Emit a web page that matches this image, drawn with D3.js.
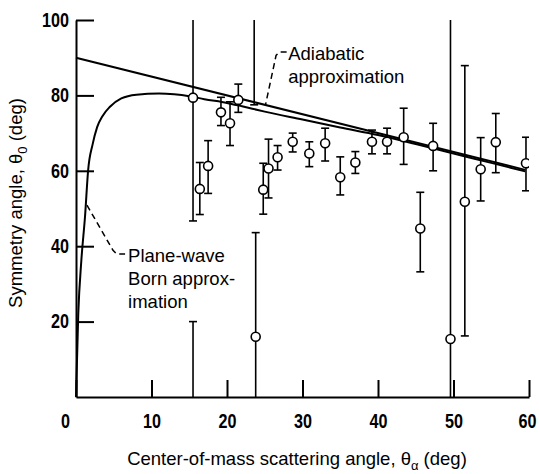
<!DOCTYPE html>
<html>
<head>
<meta charset="utf-8">
<script src="https://cdn.jsdelivr.net/npm/d3@7"></script>
<style>
  body { margin: 0; background: #fff; }
  svg { display: block; }
  text { font-family: "Liberation Sans", Arial, sans-serif; fill: #000; }
  .tick text { font-weight: bold; }
</style>
</head>
<body>
<div id="chart"></div>
<script>
"use strict"

// measured points: x angle, symmetry angle, lower and upper error
const pointX = [15.5, 15.5, 16.4, 17.5, 19.2, 20.4, 21.5, 23.6, 23.8, 24.8, 25.5, 26.7, 28.7, 30.9,
  33.0, 35.0, 37.0, 39.2, 41.2, 43.4, 45.6, 47.3, 49.6, 51.5, 53.6, 55.6, 59.6];
const pointY = [79.4, -30, 55.2, 61.3, 75.5, 72.6, 78.8, 130, 16.0, 55.0, 60.6, 63.6, 67.7, 64.6,
  67.3, 58.3, 62.2, 67.7, 67.7, 68.9, 44.7, 66.6, 15.4, 51.8, 60.4, 67.6, 62.0];
const errLow = [46.7, -80, 48.4, 54.0, 72.0, 66.7, 75.5, 77.5, -20, 48.5, 52.8, 60.2, 65.0, 61.1,
  62.6, 53.6, 59.3, 64.5, 64.5, 61.7, 33.2, 60.0, -30, 16.2, 52.0, 59.5, 54.7];
const errHigh = [115, 20.0, 62.2, 68.0, 79.5, 78.3, 83.0, 180, 43.6, 62.0, 68.4, 66.7, 70.0, 67.7,
  71.3, 63.7, 65.1, 70.8, 71.3, 76.6, 54.3, 72.6, 140, 87.9, 68.8, 75.2, 68.9];

// adiabatic approximation (straight line)
const adiabaticX = [0, 59.5];
const adiabaticY = [90, 60.25];

// plane-wave Born approximation
const bornX = [0, 0.3, 0.7, 1.2, 1.6, 2.2, 2.8, 3.5, 4.5, 6, 8, 11, 13, 15, 17, 20, 22, 25, 30, 35, 40, 45, 50, 55, 59.5];
const bornY = [0, 22, 36, 48, 60, 67, 71.6, 74.5, 77, 79.2, 80.2, 80.5, 80.3, 79.8, 79.0, 78.0, 77.1, 75.7, 73.6, 71.5, 69.5, 67.1, 64.6, 62.1, 59.85];

const xTicks = [0, 10, 20, 30, 40, 50, 60];
const yTicks = [20, 40, 60, 80, 100];

window.addEventListener("load", drawChart);

function drawChart() {
  let width = 540, height = 474;
  let margin = {top: 20, right: 11, bottom: 77, left: 76};

  let x = d3.scaleLinear().domain([0, 60]).range([margin.left, width - margin.right]);
  let y = d3.scaleLinear().domain([0, 100]).range([height - margin.bottom, margin.top]);

  let svg = d3.select("#chart")
    .append("svg")
      .attr("width", width)
      .attr("height", height);

  svg.append("clipPath")
      .attr("id", "plotClip")
    .append("rect")
      .attr("x", x(0))
      .attr("y", y(100))
      .attr("width", x(60) - x(0))
      .attr("height", y(0) - y(100));

  // digits in the reference are condensed: squeeze them to ~9px each
  function squeeze(sel) {
    sel.attr("font-size", 19.5)
      .attr("textLength", d => String(d).length * 9)
      .attr("lengthAdjust", "spacingAndGlyphs");
  }

  // axes, ticks point inward
  let xAxis = svg.append("g")
    .attr("transform", `translate(0,${y(0)})`)
    .call(d3.axisBottom(x).tickValues(xTicks).tickSizeInner(-17).tickSizeOuter(0).tickPadding(17));
  xAxis.select(".domain").attr("stroke-width", 2);
  xAxis.selectAll(".tick line").attr("stroke-width", 2);
  xAxis.selectAll(".tick text").call(squeeze);
  xAxis.selectAll(".tick").filter(d => d === 0).select("text").attr("dx", -11);
  xAxis.selectAll(".tick").filter(d => d === 60).select("text").attr("dx", -2);

  let yAxis = svg.append("g")
    .attr("transform", `translate(${x(0)},0)`)
    .call(d3.axisLeft(y).tickValues(yTicks).tickSizeInner(-18).tickSizeOuter(0).tickPadding(7));
  yAxis.select(".domain").attr("stroke-width", 2);
  yAxis.selectAll(".tick line").attr("stroke-width", 2);
  yAxis.selectAll(".tick text").call(squeeze);

  // theory curves
  let adiabatic = adiabaticX.map((d, i) => [d, adiabaticY[i]]);
  let born = bornX.map((d, i) => [d, bornY[i]]);
  let line = d3.line().x(d => x(d[0])).y(d => y(d[1]));

  svg.append("path")
    .attr("d", line(adiabatic))
    .attr("fill", "none")
    .attr("stroke", "#000")
    .attr("stroke-width", 2);

  svg.append("path")
    .attr("d", line.curve(d3.curveMonotoneX)(born))
    .attr("fill", "none")
    .attr("stroke", "#000")
    .attr("stroke-width", 2);

  // error bars and points
  let points = pointX.map((d, i) => ({x: d, y: pointY[i], lo: errLow[i], hi: errHigh[i]}));
  let plot = svg.append("g").attr("clip-path", "url(#plotClip)");
  let cap = 4;

  let bars = plot.selectAll("g.bar")
    .data(points)
    .enter()
    .append("g")
      .attr("class", "bar")
      .attr("stroke", "#000")
      .attr("stroke-width", 1.6);
  bars.append("line")
    .attr("x1", d => x(d.x)).attr("x2", d => x(d.x))
    .attr("y1", d => y(d.lo)).attr("y2", d => y(d.hi));
  bars.append("line")
    .attr("x1", d => x(d.x) - cap).attr("x2", d => x(d.x) + cap)
    .attr("y1", d => y(d.lo)).attr("y2", d => y(d.lo));
  bars.append("line")
    .attr("x1", d => x(d.x) - cap).attr("x2", d => x(d.x) + cap)
    .attr("y1", d => y(d.hi)).attr("y2", d => y(d.hi));
  bars.append("circle")
    .attr("cx", d => x(d.x))
    .attr("cy", d => y(d.y))
    .attr("r", 4.5)
    .attr("fill", "#fff");

  // annotation leaders
  let leader = d3.line().x(d => x(d[0])).y(d => y(d[1]));
  svg.append("path")
    .attr("d", leader([[27.9, 91.5], [26.9, 91.5], [26.5, 90.6], [25.1, 77.5]]))
    .attr("fill", "none").attr("stroke", "#000").attr("stroke-width", 1.5)
    .attr("stroke-dasharray", "6,4");
  svg.append("path")
    .attr("d", leader([[1.45, 50.9], [4.9, 38.9], [5.4, 37.9], [6.5, 37.9]]))
    .attr("fill", "none").attr("stroke", "#000").attr("stroke-width", 1.5)
    .attr("stroke-dasharray", "6,4");

  let fs = 18.5;
  let adLabel = svg.append("text")
    .attr("x", x(28.1)).attr("y", y(89.4))
    .attr("font-size", fs);
  adLabel.append("tspan").text("Adiabatic");
  adLabel.append("tspan").attr("x", x(28.1)).attr("dy", 23).text("approximation");

  let bornLabel = svg.append("text")
    .attr("x", x(6.9)).attr("y", y(35.8))
    .attr("font-size", fs);
  bornLabel.append("tspan").text("Plane-wave");
  bornLabel.append("tspan").attr("x", x(6.9)).attr("dy", 23).text("Born approx-");
  bornLabel.append("tspan").attr("x", x(6.9)).attr("dy", 23).text("imation");

  // axis titles
  let xTitle = svg.append("text")
    .attr("x", 297).attr("y", 465)
    .attr("text-anchor", "middle")
    .attr("font-size", fs);
  xTitle.append("tspan").text("Center-of-mass scattering angle, θ");
  xTitle.append("tspan").attr("font-size", 13).attr("dy", 5).text("α");
  xTitle.append("tspan").attr("dy", -5).text(" (deg)");

  let yTitle = svg.append("text")
    .attr("transform", "translate(22,203) rotate(-90)")
    .attr("text-anchor", "middle")
    .attr("font-size", fs);
  yTitle.append("tspan").text("Symmetry angle, θ");
  yTitle.append("tspan").attr("font-size", 13).attr("dy", 5).text("0");
  yTitle.append("tspan").attr("dy", -5).text(" (deg)");
}
</script>
</body>
</html>
